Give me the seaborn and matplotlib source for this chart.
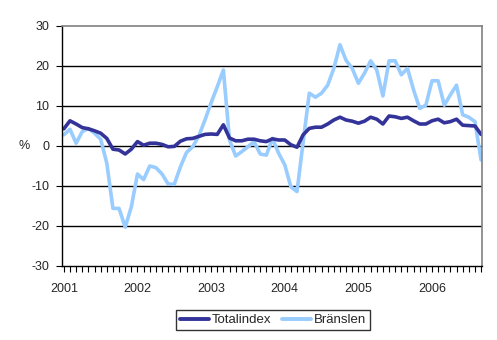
import matplotlib
matplotlib.use("Agg")
import matplotlib.pyplot as plt
import numpy as np
import pandas as pd
import seaborn as sns

years = ["2001", "2002", "2003", "2004", "2005", "2006"]
series_names = ["Totalindex", "Bränslen"]
totalindex = [4.3, 6.3, 5.5, 4.6, 4.3, 3.8, 3.2, 1.9, -0.8, -1.0, -2.0, -0.8,
              1.1, 0.2, 0.7, 0.7, 0.4, -0.2, -0.1, 1.2, 1.8, 1.9, 2.4, 2.9,
              3.0, 2.9, 5.3, 2.0, 1.3, 1.3, 1.7, 1.7, 1.3, 1.1, 1.8, 1.5,
              1.5, 0.3, -0.3, 2.8, 4.4, 4.7, 4.7, 5.5, 6.5, 7.2, 6.5, 6.2,
              5.7, 6.2, 7.2, 6.7, 5.5, 7.5, 7.3, 6.9, 7.2, 6.3, 5.5, 5.5,
              6.3, 6.7, 5.8, 6.1, 6.7, 5.2, 5.1, 5.0, 2.9]
branslen = [2.8, 4.2, 0.7, 3.6, 4.4, 3.2, 1.7, -4.3, -15.6, -15.6, -20.3, -15.2,
            -7.0, -8.4, -5.0, -5.4, -7.0, -9.5, -9.6, -5.2, -1.6, -0.2, 2.5, 6.5,
            10.8, 14.8, 19.0, 1.5, -2.5, -1.4, -0.2, 1.1, -2.0, -2.3, 1.9, -1.8,
            -4.7, -10.2, -11.4, 1.0, 13.2, 12.2, 13.2, 15.2, 19.4, 25.3, 21.4, 19.4,
            15.7, 18.2, 21.3, 19.0, 12.5, 21.3, 21.3, 17.8, 19.4, 14.0, 9.4, 10.2,
            16.3, 16.3, 10.2, 12.8, 15.2, 7.8, 7.2, 6.1, -3.5]
y_ticks = [-30, -20, -10, 0, 10, 20, 30]

months = np.arange(len(totalindex))
df = pd.DataFrame({
    "month": np.concatenate([months, months]),
    "value": totalindex + branslen,
    "series": [series_names[0]] * len(totalindex) + [series_names[1]] * len(branslen),
})

sns.set_theme(style="white")
plt.rcParams["font.family"] = ["Liberation Sans", "DejaVu Sans"]

W, H = 497, 340
FS = 9
fig = plt.figure(figsize=(W / 100, H / 100), dpi=100)
ax = fig.add_axes([62 / W, (H - 266) / H, 420 / W, 240 / H])

colors = {"Totalindex": "#333399", "Bränslen": "#99CCFF"}
sns.lineplot(data=df, x="month", y="value", hue="series", hue_order=series_names[::-1],
             palette=colors, linewidth=2.6, ax=ax, legend=False)

ax.set_ylim(-30, 30)
ax.set_xlim(-0.3, 68.15)
ax.set_yticks(y_ticks)
ax.set_yticklabels([str(t) for t in y_ticks], fontsize=FS)
for t in y_ticks[1:-1]:
    ax.axhline(t, color="black", linewidth=1.0, zorder=0.5)

ax.set_xticks(np.arange(0, 61, 12))
ax.set_xticklabels(years, fontsize=FS)
ax.set_xticks(np.arange(0, 69), minor=True)
ax.tick_params(axis="x", which="major", direction="out", length=4, width=0.8,
               pad=8, color="black", bottom=True)
ax.tick_params(axis="x", which="minor", direction="out", length=4, width=0.8,
               color="black", bottom=True)
ax.tick_params(axis="y", which="major", direction="out", length=4, width=0.8,
               pad=5, color="black", left=True)

ax.set_xlabel("")
ax.set_ylabel("%", rotation=0, fontsize=FS, va="center", ha="center")
ax.yaxis.set_label_coords((24 - 62) / 420, 0.5)

for side in ["left", "bottom"]:
    ax.spines[side].set_color("black")
    ax.spines[side].set_linewidth(1.0)
for side in ["top", "right"]:
    ax.spines[side].set_color("#808080")
    ax.spines[side].set_linewidth(1.2)
ax.set_facecolor("white")

handles = [plt.Line2D([], [], color=colors[n], linewidth=2.8) for n in series_names]
leg = fig.legend(handles, series_names, loc="center",
                 bbox_to_anchor=(273 / W, 1 - 320 / H), ncol=2, frameon=True,
                 fancybox=False, edgecolor="black", fontsize=FS + 0.5,
                 handlelength=2.2, handletextpad=0.2, columnspacing=0.8,
                 borderpad=0.3, borderaxespad=0)
leg.get_frame().set_linewidth(1.0)

fig.savefig("out.png", dpi=100, facecolor="white")
